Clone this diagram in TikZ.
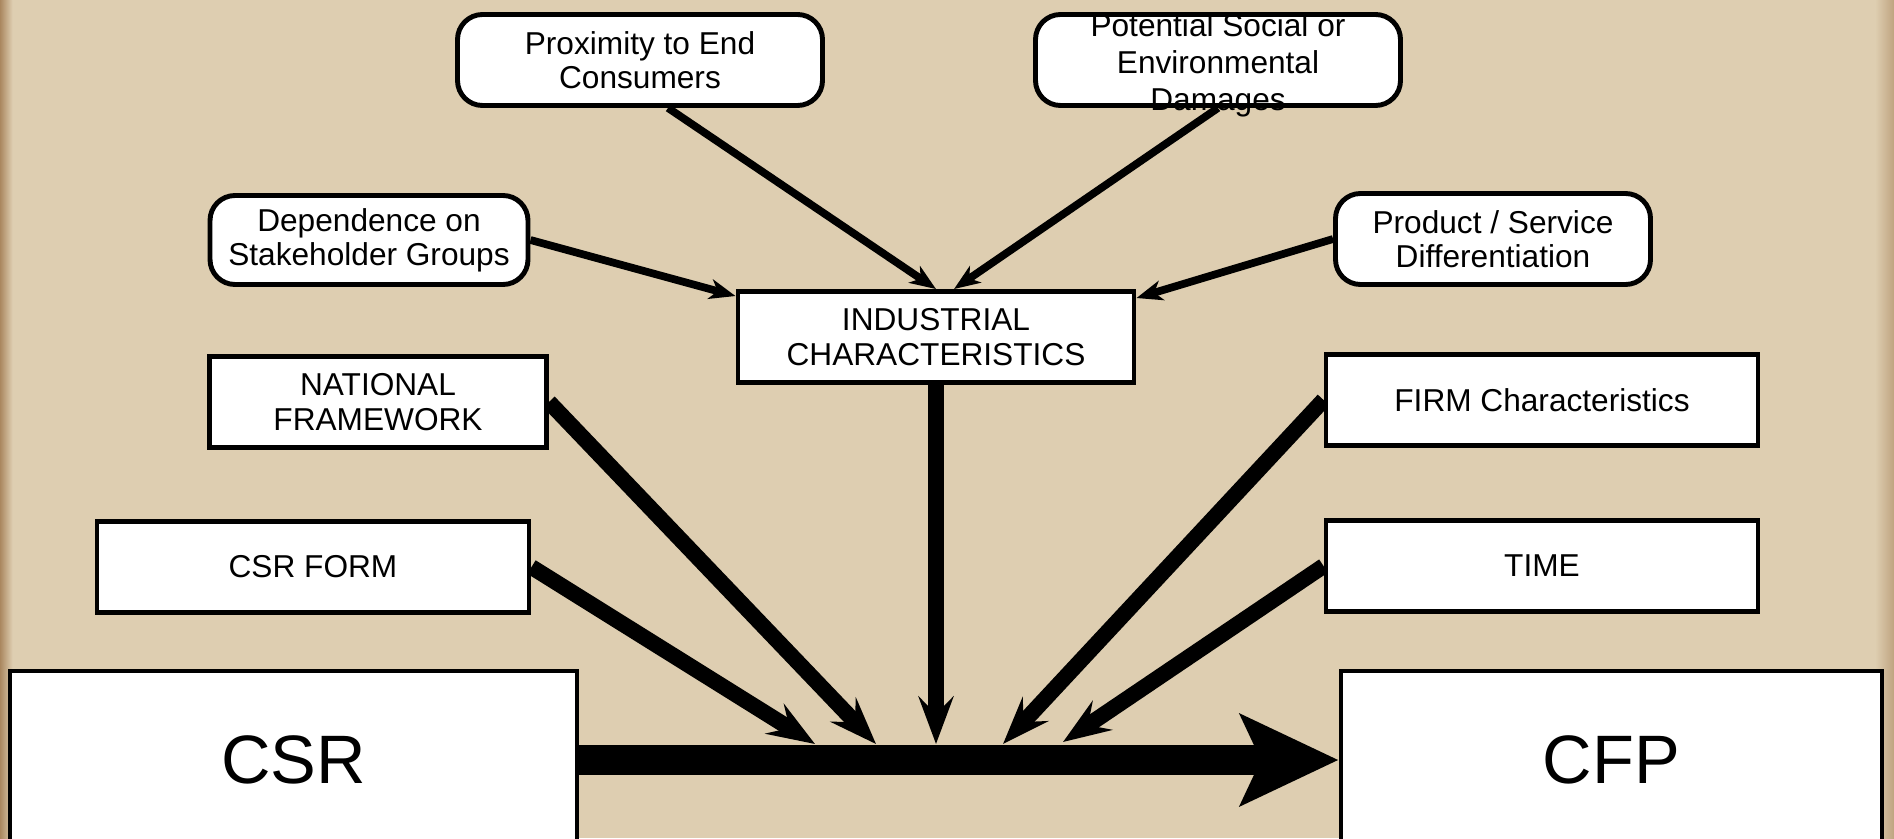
\documentclass[tikz,border=0pt]{standalone}
\usepackage{fontspec}
\setmainfont{Liberation Sans}
\usetikzlibrary{arrows.meta,positioning}
\definecolor{parchment}{RGB}{222,206,177}
\definecolor{parchedge}{RGB}{170,135,95}
\pgfdeclarelayer{bg}
\pgfsetlayers{bg,main}

\begin{document}
\begin{tikzpicture}[
  softbox/.style={draw, line width=2.8pt, rounded corners=0.5cm, fill=white, align=center, minimum width=7.3cm, minimum height=1.82cm, font=\fontsize{18}{19.5}\selectfont},
  sqbox/.style={draw, line width=2.8pt, fill=white, align=center, minimum width=8.64cm, minimum height=1.82cm, font=\fontsize{18}{19.5}\selectfont},
  bigbox/.style={draw, line width=2.8pt, fill=white, minimum height=3.56cm, font=\fontsize{39}{44}\selectfont},
  thinarr/.style={-{Stealth[length=0.52cm, width=0.4cm, inset=0.15cm]}, line width=4.4pt},
  thickarr/.style={-{Stealth[length=0.95cm, width=0.7cm, inset=0.35cm]}, line width=9pt},
  mainarr/.style={-{Stealth[length=1.95cm, width=1.8cm, inset=0.4cm]}, line width=17pt}
]
\useasboundingbox (0,0) rectangle (37.88,16.76);

% influencing factors
\node[softbox] (prox) at (12.8,15.56) {Proximity to End\\Consumers};
\node[softbox] (pot) at (24.36,15.56) {};
\node[align=center, font=\fontsize{18}{21}\selectfont] (pottext) at (24.36,15.46) {Potential Social or\\Environmental\\Damages};
\node[softbox, minimum width=6.36cm, minimum height=1.78cm] (dep) at (7.38,11.96) {Dependence on\\Stakeholder Groups};
\node[softbox, minimum width=6.3cm] (prod) at (29.86,11.98) {Product / Service\\Differentiation};
\node[sqbox, minimum width=7.92cm] (ind) at (18.72,10.02) {INDUSTRIAL\\CHARACTERISTICS};
\node[sqbox, minimum width=6.74cm] (nat) at (7.56,8.72) {NATIONAL\\FRAMEWORK};
\node[sqbox] (firm) at (30.84,8.76) {FIRM Characteristics};
\node[sqbox] (form) at (6.26,5.42) {CSR FORM};
\node[sqbox] (time) at (30.84,5.44) {TIME};

% main relation
\node[bigbox, minimum width=11.34cm] (csr) at (5.87,1.56) {CSR};
\node[bigbox, minimum width=10.82cm] (cfp) at (32.23,1.56) {CFP};

\coordinate (jform) at (16.3,1.88);
\coordinate (jnat) at (17.52,1.88);
\coordinate (jfirm) at (20.06,1.88);
\coordinate (jtime) at (21.26,1.92);

\begin{pgfonlayer}{bg}
\fill[parchment] (0,0) rectangle (37.88,16.76);
\shade[left color=parchedge, right color=parchment] (0,0) rectangle (0.25,16.76);
\shade[left color=parchment, right color=parchedge!60!parchment] (37.5,0) rectangle (37.88,16.76);
\draw[thinarr] ([xshift=0.56cm]prox.south) -- (ind.north);
\draw[thinarr] (pot.south) -- ([xshift=0.36cm]ind.north);
\draw[thinarr] (dep.east) -- ([yshift=-0.14cm]ind.north west);
\draw[thinarr] (prod.west) -- ([yshift=-0.18cm]ind.north east);
\draw[thickarr] (form.east) -- (jform);
\draw[thickarr] (nat.east) -- (jnat);
\draw[thickarr] (ind.south) -- (ind.south |- jform);
\draw[thickarr] (firm.west) -- (jfirm);
\draw[thickarr] (time.west) -- (jtime);
\draw[mainarr] (csr.east) -- (cfp.west);
\end{pgfonlayer}
\end{tikzpicture}
\end{document}
